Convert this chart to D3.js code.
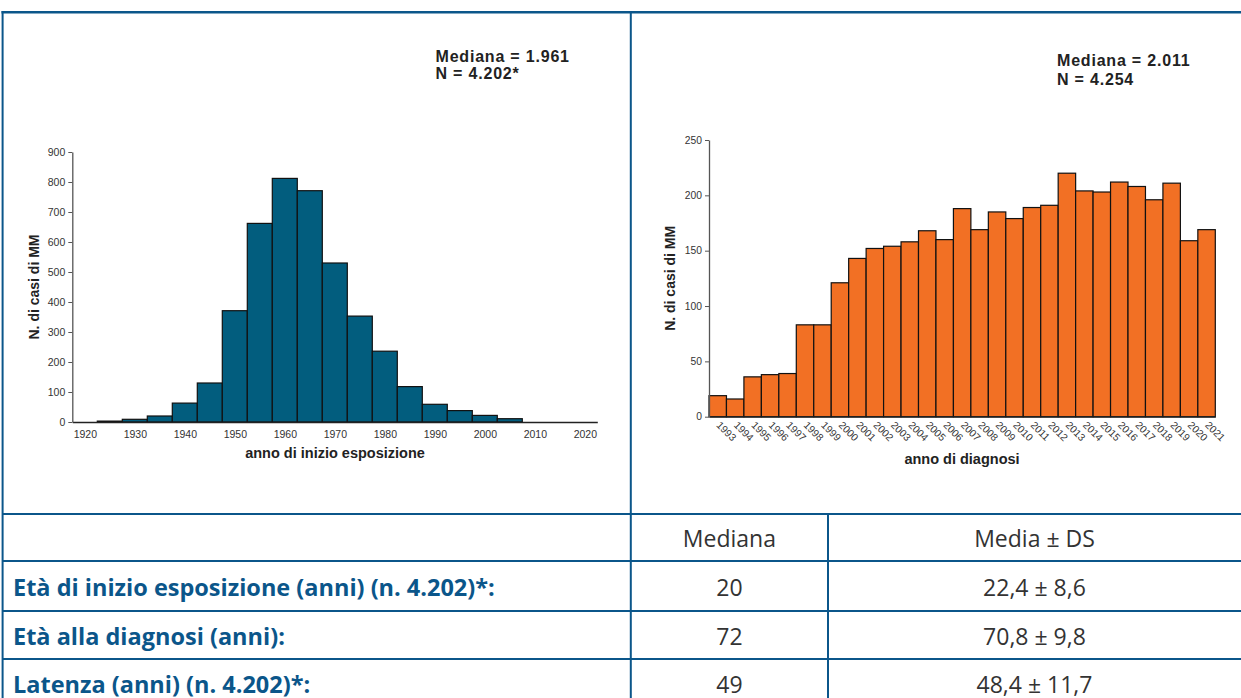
<!DOCTYPE html>
<html>
<head>
<meta charset="utf-8">
<script src="https://cdn.jsdelivr.net/npm/d3@7"></script>
<style>
  html, body { margin: 0; padding: 0; background: #fff; overflow: hidden; }
  svg { display: block; }
</style>
</head>
<body>
<div id="chart"></div>
<script>
// ===== data =====
const expoYears = [1920, 1925, 1930, 1935, 1940, 1945, 1950, 1955, 1960, 1965, 1970,
                   1975, 1980, 1985, 1990, 1995, 2000, 2005, 2010, 2015, 2020];
const expoCounts = [0, 3, 9, 20, 63, 130, 371, 662, 812, 771, 530,
                    353, 236, 118, 59, 38, 22, 11, 0, 0, 0];
const expoTicks = [1920, 1930, 1940, 1950, 1960, 1970, 1980, 1990, 2000, 2010, 2020];

const diagYears = ["1993", "1994", "1995", "1996", "1997", "1998", "1999", "2000", "2001", "2002",
                   "2003", "2004", "2005", "2006", "2007", "2008", "2009", "2010", "2011", "2012",
                   "2013", "2014", "2015", "2016", "2017", "2018", "2019", "2020", "2021"];
const diagCounts = [19, 16, 36, 38, 39, 83, 83, 121, 143, 152,
                    154, 158, 168, 160, 188, 169, 185, 179, 189, 191,
                    220, 204, 203, 212, 208, 196, 211, 159, 169];

const leftNotes = ["Mediana = 1.961", "N = 4.202*"];
const rightNotes = ["Mediana = 2.011", "N = 4.254"];

const tableHead = ["", "Mediana", "Media \u00b1 DS"];
const tableRows = [
    ["Et\u00e0 di inizio esposizione (anni) (n. 4.202)*:", "20", "22,4 \u00b1 8,6"],
    ["Et\u00e0 alla diagnosi (anni):", "72", "70,8 \u00b1 9,8"],
    ["Latenza (anni) (n. 4.202)*:", "49", "48,4 \u00b1 11,7"]
];

const width = 1241;
const height = 698;
const blue = "#0b568a";
const chartFont = "'Liberation Sans', Arial, sans-serif";
const tableFont = "'Open Sans', sans-serif";

const svg = d3.select("#chart").append("svg")
    .attr("width", width)
    .attr("height", height);

svg.append("rect").attr("width", width).attr("height", height).attr("fill", "#fff");

// ===== left histogram =====
const xL = d3.scaleLinear().domain([1917.5, 2022.5]).range([72.3, 597.3]);
const yL = d3.scaleLinear().domain([0, 900]).range([422, 152]);

const left = svg.append("g");

left.selectAll(".barL")
    .data(expoYears.map((y, k) => ({ year: y, n: expoCounts[k] })))
    .enter().append("rect")
    .attr("class", "barL")
    .attr("x", d => xL(d.year - 2.5))
    .attr("width", d => xL(d.year + 2.5) - xL(d.year - 2.5))
    .attr("y", d => yL(d.n))
    .attr("height", d => yL(0) - yL(d.n))
    .attr("fill", "#025d7e")
    .attr("stroke", "#111")
    .attr("stroke-width", 1.2);

const axLx = left.append("g")
    .attr("transform", `translate(0,${yL(0)})`)
    .call(d3.axisBottom(xL).tickValues(expoTicks).tickFormat(d3.format("d"))
        .tickSize(0).tickSizeOuter(0).tickPadding(9));
axLx.select(".domain").attr("stroke", "#222").attr("stroke-width", 1.3);

const axLy = left.append("g")
    .attr("transform", `translate(${xL(1917.5)},0)`)
    .call(d3.axisLeft(yL).ticks(9).tickSize(4).tickSizeOuter(0).tickPadding(3));
axLy.select(".domain").attr("stroke", "#555").attr("stroke-width", 1.3);
axLy.selectAll(".tick line").attr("stroke", "#555");

left.selectAll(".tick text")
    .attr("font-family", chartFont)
    .attr("font-size", 10.5)
    .attr("fill", "#333");

left.append("text")
    .attr("transform", `translate(39,${(yL(0) + yL(900)) / 2}) rotate(-90)`)
    .attr("text-anchor", "middle")
    .attr("font-family", chartFont).attr("font-weight", "bold").attr("font-size", 14)
    .attr("fill", "#222")
    .text("N. di casi di MM");

left.append("text")
    .attr("x", 335).attr("y", 458)
    .attr("text-anchor", "middle")
    .attr("font-family", chartFont).attr("font-weight", "bold").attr("font-size", 14.5)
    .attr("fill", "#222")
    .text("anno di inizio esposizione");

left.selectAll(".noteL")
    .data(leftNotes)
    .enter().append("text")
    .attr("x", 435.5)
    .attr("y", (d, k) => 61.5 + k * 17.5)
    .attr("font-family", chartFont).attr("font-weight", "bold").attr("font-size", 16)
    .attr("letter-spacing", 0.8)
    .attr("fill", "#222")
    .text(d => d);

// ===== right histogram =====
const xR = d3.scaleBand().domain(diagYears).range([709, 1215.3]).padding(0);
const yR = d3.scaleLinear().domain([0, 250]).range([416.7, 140]);

const right = svg.append("g");

right.selectAll(".barR")
    .data(diagYears.map((y, k) => ({ year: y, n: diagCounts[k] })))
    .enter().append("rect")
    .attr("class", "barR")
    .attr("x", d => xR(d.year))
    .attr("width", xR.bandwidth())
    .attr("y", d => yR(d.n))
    .attr("height", d => yR(0) - yR(d.n))
    .attr("fill", "#f27024")
    .attr("stroke", "#111")
    .attr("stroke-width", 1.2);

const axRx = right.append("g")
    .attr("transform", `translate(0,${yR(0)})`)
    .call(d3.axisBottom(xR).tickSize(0).tickSizeOuter(0).tickPadding(0));
axRx.select(".domain").attr("stroke", "#222").attr("stroke-width", 1.3);
axRx.selectAll(".tick text")
    .attr("text-anchor", "start")
    .attr("dy", 0)
    .attr("transform", "translate(-2,9) rotate(45)");

const axRy = right.append("g")
    .attr("transform", `translate(${xR.range()[0]},0)`)
    .call(d3.axisLeft(yR).tickValues([0, 50, 100, 150, 200, 250]).tickSize(4).tickSizeOuter(0).tickPadding(3));
axRy.select(".domain").attr("stroke", "#555").attr("stroke-width", 1.3);
axRy.selectAll(".tick line").attr("stroke", "#555");

right.selectAll(".tick text")
    .attr("font-family", chartFont)
    .attr("font-size", 10.3)
    .attr("fill", "#333");

right.append("text")
    .attr("transform", `translate(675,${(yR(0) + yR(250)) / 2}) rotate(-90)`)
    .attr("text-anchor", "middle")
    .attr("font-family", chartFont).attr("font-weight", "bold").attr("font-size", 14)
    .attr("fill", "#222")
    .text("N. di casi di MM");

right.append("text")
    .attr("x", 962).attr("y", 464)
    .attr("text-anchor", "middle")
    .attr("font-family", chartFont).attr("font-weight", "bold").attr("font-size", 14.5)
    .attr("fill", "#222")
    .text("anno di diagnosi");

right.selectAll(".noteR")
    .data(rightNotes)
    .enter().append("text")
    .attr("x", 1057)
    .attr("y", (d, k) => 66 + k * 19)
    .attr("font-family", chartFont).attr("font-weight", "bold").attr("font-size", 16)
    .attr("letter-spacing", 0.8)
    .attr("fill", "#222")
    .text(d => d);

// ===== table =====
const colX = [2.5, 630.8, 828, width + 2];
const rowY = [514, 561, 611, 659, 707];
const tbl = svg.append("g");

[tableHead, ...tableRows].forEach((row, r) => {
    const mid = (rowY[r] + rowY[r + 1]) / 2;
    row.forEach((cell, c) => {
        const t = tbl.append("text")
            .attr("y", mid + 9.5)
            .attr("font-family", tableFont)
            .attr("font-size", 23)
            .text(cell);
        if (c === 0) {
            t.attr("x", 13).attr("font-weight", "bold").attr("fill", blue).attr("font-size", 23.5);
        } else {
            t.attr("x", (colX[c] + colX[c + 1] - (c === 2 ? 2 : 0)) / 2)
                .attr("text-anchor", "middle").attr("fill", "#333");
        }
    });
});

// horizontal rules of the table
tbl.selectAll(".hrule")
    .data(rowY.slice(0, 4))
    .enter().append("line")
    .attr("x1", 2.5).attr("x2", width)
    .attr("y1", d => d).attr("y2", d => d)
    .attr("stroke", blue).attr("stroke-width", 2);

// frame
svg.append("line").attr("x1", 1.5).attr("x2", width).attr("y1", 12.2).attr("y2", 12.2)
    .attr("stroke", blue).attr("stroke-width", 2.6);
svg.append("line").attr("x1", 2.6).attr("x2", 2.6).attr("y1", 11).attr("y2", height)
    .attr("stroke", blue).attr("stroke-width", 2);
svg.append("line").attr("x1", 630.8).attr("x2", 630.8).attr("y1", 11).attr("y2", height)
    .attr("stroke", blue).attr("stroke-width", 2);
svg.append("line").attr("x1", 828).attr("x2", 828).attr("y1", 514).attr("y2", height)
    .attr("stroke", blue).attr("stroke-width", 2);
</script>
</body>
</html>
